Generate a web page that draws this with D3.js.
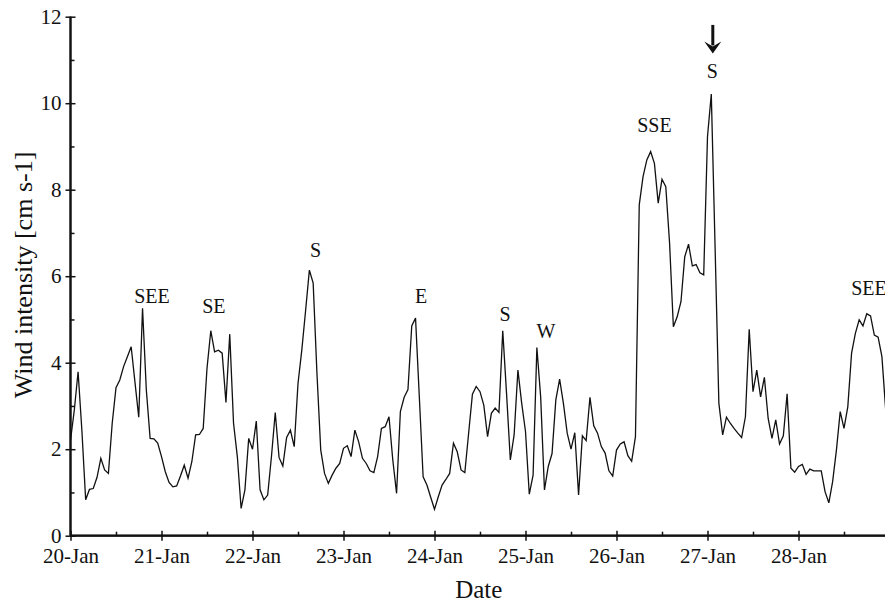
<!DOCTYPE html>
<html>
<head>
<meta charset="utf-8">
<script src="https://cdn.jsdelivr.net/npm/d3@7/dist/d3.min.js"></script>
<style>
  html, body { margin: 0; padding: 0; background: #fff; }
  svg { display: block; }
</style>
</head>
<body>
<svg id="chart" width="885" height="606" font-family="Liberation Serif"></svg>
<script>
// Hourly wind intensity starting 20-Jan 00:00
const startDate = "2009-01-20T00:00:00Z";
const windValues = [
  2.21, 2.9, 3.79, 2.44, 0.83, 1.07, 1.09, 1.35, 1.79, 1.52,
  1.44, 2.6, 3.42, 3.6, 3.91, 4.14, 4.37, 3.55, 2.74, 5.26,
  3.37, 2.25, 2.24, 2.14, 1.83, 1.48, 1.23, 1.13, 1.15, 1.38,
  1.63, 1.33, 1.71, 2.33, 2.34, 2.48, 3.87, 4.74, 4.25, 4.29,
  4.22, 3.08, 4.66, 2.6, 1.83, 0.63, 1.06, 2.25, 2.0, 2.65,
  1.06, 0.83, 0.94, 1.83, 2.85, 1.81, 1.61, 2.27, 2.44, 2.06,
  3.52, 4.29, 5.2, 6.14, 5.84, 3.75, 1.98, 1.44, 1.21, 1.40,
  1.56, 1.67, 2.02, 2.08, 1.83, 2.44, 2.17, 1.79, 1.67, 1.5,
  1.46, 1.83, 2.48, 2.52, 2.75, 1.75, 0.98, 2.87, 3.2, 3.38,
  4.85, 5.03, 3.2, 1.36, 1.17, 0.89, 0.61, 0.9, 1.17, 1.3,
  1.44, 2.14, 1.94, 1.52, 1.46, 2.37, 3.27, 3.45, 3.33, 3.02,
  2.29, 2.83, 2.95, 2.85, 4.74, 3.29, 1.75, 2.33, 3.83, 3.06,
  2.41, 0.96, 1.4, 4.35, 3.21, 1.06, 1.6, 1.9, 3.14, 3.62,
  3.06, 2.37, 2.0, 2.38, 0.94, 2.31, 2.2, 3.2, 2.54, 2.37,
  2.06, 1.91, 1.5, 1.38, 1.98, 2.12, 2.17, 1.85, 1.72, 2.29,
  7.65, 8.3, 8.69, 8.88, 8.61, 7.69, 8.24, 8.07, 6.76, 4.83,
  5.06, 5.41, 6.45, 6.74, 6.24, 6.27, 6.08, 6.03, 9.23, 10.21,
  6.68, 3.06, 2.33, 2.74, 2.6, 2.48, 2.37, 2.27, 2.75, 4.77,
  3.33, 3.83, 3.21, 3.66, 2.71, 2.25, 2.68, 2.12, 2.31, 3.28,
  1.56, 1.47, 1.6, 1.65, 1.42, 1.54, 1.5, 1.5, 1.5, 1.02,
  0.76, 1.25, 1.98, 2.87, 2.48, 2.98, 4.22, 4.68, 4.99, 4.85,
  5.13, 5.08, 4.64, 4.59, 4.14, 2.9
];
const yMajorTicks = [0, 2, 4, 6, 8, 10, 12];
const yMinorTicks = [1, 3, 5, 7, 9, 11];
const xTickDays = 9; // 20-Jan .. 28-Jan labelled
// Wind direction labels (hours after start, value)
const labelTexts  = ["SEE", "SE", "S", "E", "S", "W", "SSE", "S", "SEE"];
const labelHours  = [21.5, 37.8, 64.6, 92.5, 114.6, 125.4, 154.0, 169.3, 210.6];
const labelValues = [5.39, 5.14, 6.44, 5.37, 4.96, 4.56, 9.34, 10.58, 5.57];
const arrowHour = 169.4, arrowTop = 11.81, arrowTip = 11.15;

const FONT = "Liberation Serif";
const HOUR = 3600 * 1000, DAY = 24 * HOUR;
const t0 = new Date(startDate).getTime();
const data = windValues.map((v, i) => ({ t: new Date(t0 + i * HOUR), v }));

const svg = d3.select("#chart");
const x = d3.scaleUtc().domain([new Date(t0), new Date(t0 + 9 * DAY)]).range([70.5, 889.5]);
const y = d3.scaleLinear().domain([0, 12]).range([535.7, 16.7]);

const fmt = d3.utcFormat("%d-%b");
const dayTicks = d3.utcDay.range(new Date(t0), new Date(t0 + xTickDays * DAY));
const halfDayTicks = dayTicks.map(d => new Date(d.getTime() + 12 * HOUR));

svg.append("clipPath").attr("id", "clip").append("rect")
  .attr("x", 70).attr("y", 0).attr("width", 820).attr("height", 540);

const line = d3.line().x(d => x(d.t)).y(d => y(d.v));
svg.append("path").datum(data)
  .attr("clip-path", "url(#clip)")
  .attr("fill", "none").attr("stroke", "#111").attr("stroke-width", 1.3)
  .attr("stroke-linejoin", "miter").attr("d", line);

// Y axis
const gy = svg.append("g").attr("transform", "translate(70.5,0)");
gy.call(d3.axisLeft(y).tickValues(yMajorTicks).tickSize(5).tickPadding(4).tickFormat(d3.format("d")));
gy.append("g").call(d3.axisRight(y).tickValues(yMajorTicks).tickSize(5).tickFormat(""));
gy.append("g").call(d3.axisRight(y).tickValues(yMinorTicks).tickSize(4).tickFormat(""));

// X axis
const gx = svg.append("g").attr("transform", "translate(0,535.7)");
gx.call(d3.axisBottom(x).tickValues(dayTicks).tickSize(5).tickPadding(7).tickFormat(fmt));
gx.append("g").call(d3.axisTop(x).tickValues(dayTicks).tickSize(5).tickFormat(""));
gx.append("g").call(d3.axisTop(x).tickValues(halfDayTicks).tickSize(4).tickFormat(""));

svg.selectAll(".domain").attr("stroke", "#111").attr("stroke-width", 1.7);
svg.selectAll(".tick line").attr("stroke", "#111").attr("stroke-width", 1.5);
gy.selectAll(".domain").attr("d", `M0,${y(12)}V${y(0)}`);
gx.selectAll(".domain").attr("d", `M${x(new Date(t0))},0H890`);
svg.selectAll("g").attr("font-family", FONT).attr("font-size", 21);

// Axis titles
svg.append("text").attr("x", 478.8).attr("y", 598)
  .attr("text-anchor", "middle").attr("font-size", 25).text("Date");
svg.append("text")
  .attr("transform", "translate(32,275) rotate(-90)")
  .attr("text-anchor", "middle").attr("font-size", 26).text("Wind intensity [cm s-1]");

// direction labels
svg.selectAll(".dirlab").data(labelTexts).enter().append("text")
  .attr("class", "dirlab")
  .attr("x", (d, i) => x(new Date(t0 + labelHours[i] * HOUR)))
  .attr("y", (d, i) => y(labelValues[i]))
  .attr("text-anchor", "middle").attr("font-size", 20).text(d => d);

svg.selectAll("text").attr("font-family", FONT).attr("fill", "#111");

// arrow
const ax = x(new Date(t0 + arrowHour * HOUR));
const yTop = y(arrowTop), yTip = y(arrowTip);
svg.append("line").attr("x1", ax).attr("x2", ax).attr("y1", yTop).attr("y2", yTip - 8)
  .attr("stroke", "#111").attr("stroke-width", 3);
svg.append("path")
  .attr("d", `M${ax - 8.5},${yTip - 12}L${ax},${yTip}L${ax + 8.5},${yTip - 12}L${ax},${yTip - 7}Z`)
  .attr("fill", "#111");
</script>
</body>
</html>
